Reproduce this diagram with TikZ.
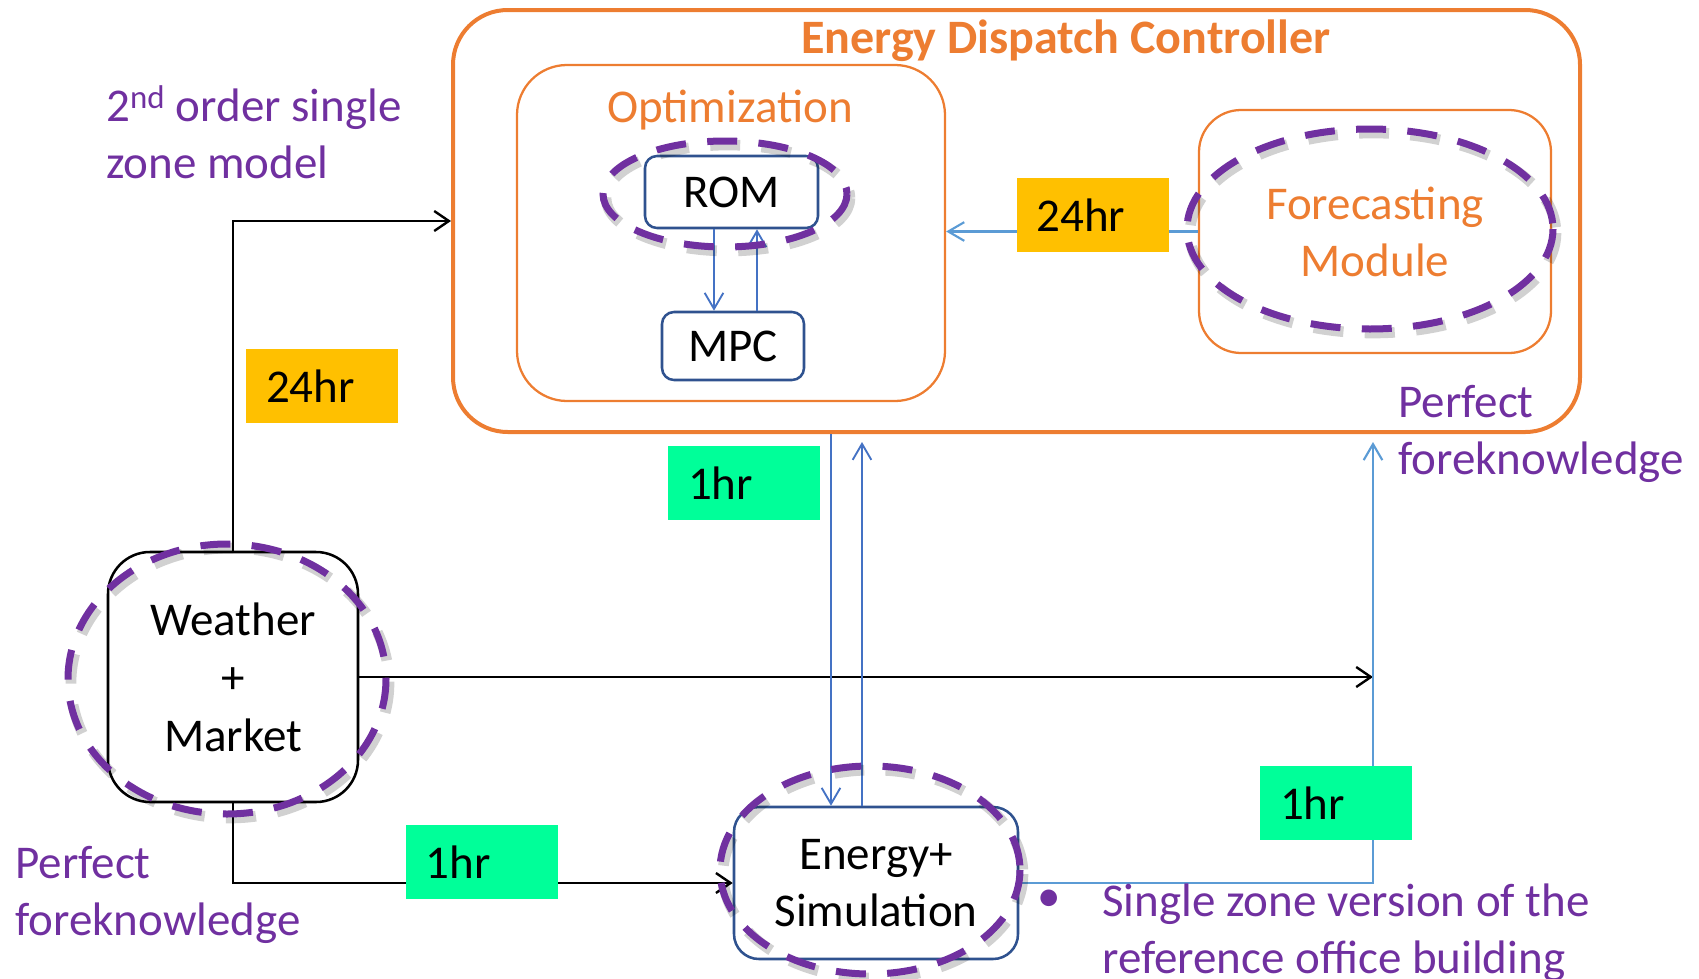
\documentclass[tikz,border=0pt]{standalone}
\usepackage{fontspec}
\setmainfont{Carlito}
\usetikzlibrary{arrows.meta,calc}

\definecolor{edcorange}{HTML}{ED7D31}
\definecolor{ringpurple}{HTML}{7030A0}
\definecolor{boxblue}{HTML}{2F528F}
\definecolor{linkblue}{HTML}{4472C4}
\definecolor{lightlink}{HTML}{5B9BD5}
\definecolor{tagyellow}{HTML}{FFC000}
\definecolor{taggreen}{HTML}{00FF99}

\newcommand\bigtext{\fontsize{35.25pt}{42.75pt}\selectfont}

\begin{document}
\begin{tikzpicture}[x=0.75pt,y=-0.75pt,
  every node/.style={font=\bigtext},
  outerframe/.style={draw=edcorange, line width=3pt, rounded corners=41pt, inner sep=0pt},
  innerframe/.style={draw=edcorange, line width=1.7pt, rounded corners=#1, inner sep=0pt},
  block/.style={draw=boxblue, line width=1.9pt, rounded corners=9pt, inner sep=0pt},
  plainblock/.style={draw=black, line width=1.9pt, rounded corners=#1, inner sep=0pt, align=center},
  tagbox/.style={inner xsep=15pt, inner ysep=0pt, minimum height=55.5pt, text width=84pt, align=left},
  note/.style={text=ringpurple, anchor=base west, align=left, inner sep=0pt},
  blackarrow/.style={draw=black, line width=1.8pt, -{Straight Barb[length=11pt,width=15pt]}},
  linkarrow/.style={draw=linkblue, line width=1.4pt, -{Straight Barb[length=12pt,width=14pt]}},
  lightarrow/.style={draw=lightlink, line width=1.6pt, -{Straight Barb[length=12pt,width=14pt]}},
  ring/.style={draw=ringpurple, line width=5.25pt, dash pattern=on 22.5pt off 16pt},
  ringshade/.style={draw=black, opacity=0.18, line width=8pt, dash pattern=on 22.5pt off 16pt}
]
\useasboundingbox (0,0) rectangle (1699,978);
\clip (0,0) rectangle (1699,978);

% controller and its parts
\node[outerframe, minimum width=845.25pt, minimum height=316.5pt] (edc) at (1016.5,221) {};
\node[anchor=base, text=edcorange, font=\fontsize{36pt}{43pt}\selectfont\bfseries] (edctitle) at (1066,53) {Energy Dispatch Controller};
\node[innerframe=37.5pt, minimum width=321pt, minimum height=252pt] (opt) at (731,233) {};
\node[anchor=base, text=edcorange] (optlabel) at (730,122) {Optimization};
\node[block, minimum width=129.75pt, minimum height=54pt] (rom) at (731.5,192) {ROM};
\node[block, minimum width=106.5pt, minimum height=51pt] (mpc) at (733,346) {MPC};
\node[innerframe=31.5pt, minimum width=264pt, minimum height=182.25pt, text=edcorange, align=center] (fc) at (1375,231.5) {Forecasting\\Module};

% inputs and plant
\node[plainblock=31.5pt, minimum width=187.5pt, minimum height=187.5pt, font=\fontsize{35.25pt}{43.5pt}\selectfont] (wm) at (233,677) {Weather\\+\\Market};
\node[draw=boxblue, line width=1.9pt, rounded corners=18.75pt, inner sep=0pt, align=center, minimum width=213pt, minimum height=114pt] (eplus) at (876,883) {Energy+\\Simulation};

% connectors
\coordinate (junc) at (1373,677);
\coordinate (dnx) at (831,0);
\coordinate (upx) at (862,0);
\coordinate (rdn) at (714,0);
\coordinate (rup) at (757,0);

\draw[blackarrow] (wm.north) |- (edc.west);
\draw[blackarrow] (wm.east) -- (junc);
\draw[blackarrow] (wm.south) |- (eplus.west);
\draw[lightarrow, shorten >=6pt] (eplus.east) -| (junc |- edc.south);
\draw[linkarrow] (dnx |- edc.south) -- (dnx |- eplus.north);
\draw[linkarrow, shorten >=6pt] (upx |- eplus.north) -- (upx |- edc.south);
\draw[linkarrow] (rdn |- rom.south) -- (rdn |- mpc.north);
\draw[linkarrow] (rup |- mpc.north) -- (rup |- rom.south);
\draw[lightarrow] (fc.west) -- (fc.west -| opt.east);

% dashed highlight rings with their soft shadows
\foreach \cx/\cy/\rx/\ry in {725/194/122/53, 1370/229/183/100, 227/679/159/135, 870/870/150/104} {
  \draw[ringshade] (\cx+3,\cy+4) ellipse [x radius=\rx, y radius=\ry];
  \draw[ring] (\cx,\cy) ellipse [x radius=\rx, y radius=\ry];
}

% time-step tags
\node[tagbox, fill=tagyellow] (tagday) at (322,386) {24hr};
\node[tagbox, fill=tagyellow] (tagfc) at (1092.5,215) {24hr};
\node[tagbox, fill=taggreen] (tagctl) at (744,483) {1hr};
\node[tagbox, fill=taggreen] (tagin) at (481.5,862) {1hr};
\node[tagbox, fill=taggreen] (tagout) at (1336,803) {1hr};

% annotations (base anchor sits on the last line of each note)
\node[note] (zonenote) at (106,178) {2\textsuperscript{nd} order single\\zone model};
\node[note] (pfleft) at (15,935) {Perfect\\foreknowledge};
\node[note] (pfright) at (1398,474) {Perfect\\foreknowledge};
\node[text=ringpurple, inner sep=0pt] (bulletdot) at (1049,901) {\textbullet};
\node[note] (bldgnote) at (1102,973) {Single zone version of the\\reference office building};
\end{tikzpicture}
\end{document}
